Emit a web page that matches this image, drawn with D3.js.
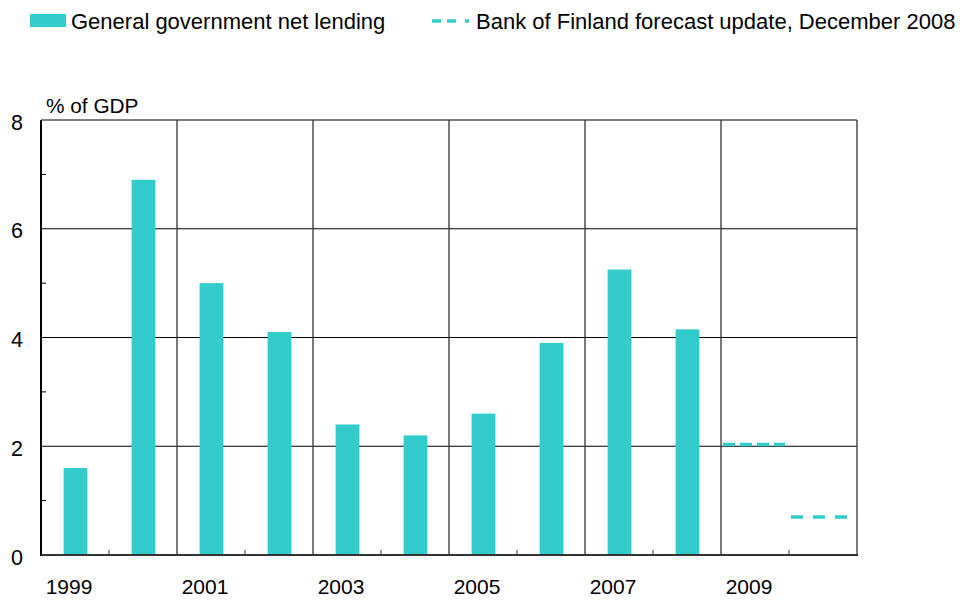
<!DOCTYPE html>
<html>
<head>
<meta charset="utf-8">
<script src="https://cdn.jsdelivr.net/npm/d3@7"></script>
<style>
  html, body { margin: 0; padding: 0; background: #fff; }
  svg { display: block; font-family: "Liberation Sans", Arial, sans-serif; }
</style>
</head>
<body>
<svg id="chart" width="962" height="600"></svg>
<script>
// ---- data ----
const years = [1999, 2000, 2001, 2002, 2003, 2004, 2005, 2006, 2007, 2008, 2009, 2010];
const netLending = [1.6, 6.9, 5.0, 4.1, 2.4, 2.2, 2.6, 3.9, 5.25, 4.15, null, null];
const forecast = [null, null, null, null, null, null, null, null, null, null, 2.03, 0.7];
const yTicks = [0, 2, 4, 6, 8];
const yMinorTicks = [1, 3, 5, 7];
const xTickLabels = ["1999", "2001", "2003", "2005", "2007", "2009"];
const legendLabels = ["General government net lending", "Bank of Finland forecast update, December 2008"];
const yAxisTitle = "% of GDP";

// ---- layout ----
const svg = d3.select("#chart");
const pLeft = 41, pRight = 857, pTop = 120, pBottom = 555;
const teal = "#33CCCC";

const x = d3.scaleBand().domain(years).range([pLeft, pRight]).padding(0);
const y = d3.scaleLinear().domain([0, 8]).range([pBottom, pTop]);
const bw = x.bandwidth();

// horizontal gridlines
svg.append("g").selectAll("line").data(yTicks.filter(d => d > 0)).join("line")
  .attr("x1", pLeft).attr("x2", pRight)
  .attr("y1", d => y(d)).attr("y2", d => y(d))
  .attr("stroke", "#000").attr("stroke-width", 1.2);

// vertical gridlines at every 2 years + right border
const vLines = years.filter((d, i) => i > 0 && i % 2 === 0).map(d => x(d)).concat([pRight]);
svg.append("g").selectAll("line").data(vLines).join("line")
  .attr("x1", d => d).attr("x2", d => d)
  .attr("y1", pTop).attr("y2", pBottom)
  .attr("stroke", "#333").attr("stroke-width", 1.3);

// bars
const barW = bw * 0.35;
svg.append("g").selectAll("rect")
  .data(years.map((yr, i) => ({ yr, v: netLending[i] })).filter(d => d.v !== null))
  .join("rect")
  .attr("x", d => x(d.yr) + bw / 2 - barW / 2 + 0.5)
  .attr("width", barW)
  .attr("y", d => y(d.v))
  .attr("height", d => y(0) - y(d.v))
  .attr("fill", teal);

// forecast dashed lines
const fData = years.map((yr, i) => ({ yr, v: forecast[i] })).filter(d => d.v !== null);
const dashes = ["12,5", "12,10"];
const ends = [bw - 4, bw - 10];
svg.append("g").selectAll("line").data(fData).join("line")
  .attr("x1", d => x(d.yr) + 2)
  .attr("x2", (d, i) => x(d.yr) + ends[i])
  .attr("y1", d => y(d.v)).attr("y2", d => y(d.v))
  .attr("stroke", teal).attr("stroke-width", 3.5)
  .attr("stroke-dasharray", (d, i) => dashes[i]);

// axes lines
svg.append("line").attr("x1", pLeft).attr("x2", pLeft).attr("y1", pTop).attr("y2", pBottom + 1)
  .attr("stroke", "#000").attr("stroke-width", 2);
svg.append("line").attr("x1", pLeft).attr("x2", pRight + 1).attr("y1", pBottom).attr("y2", pBottom)
  .attr("stroke", "#333").attr("stroke-width", 2);

// y minor ticks (inward)
svg.append("g").selectAll("line").data(yMinorTicks).join("line")
  .attr("x1", pLeft).attr("x2", pLeft + 5)
  .attr("y1", d => y(d)).attr("y2", d => y(d))
  .attr("stroke", "#000").attr("stroke-width", 1);

// x minor ticks at odd boundaries (inward)
const xMinor = years.filter((d, i) => i % 2 === 1).map(d => x(d));
svg.append("g").selectAll("line").data(xMinor).join("line")
  .attr("x1", d => d).attr("x2", d => d)
  .attr("y1", pBottom).attr("y2", pBottom - 5)
  .attr("stroke", "#333").attr("stroke-width", 1);

// y labels
svg.append("g").selectAll("text").data(yTicks).join("text")
  .attr("x", 23).attr("y", d => y(d) + 9.5)
  .attr("text-anchor", "end")
  .attr("font-size", 21.5).attr("fill", "#000")
  .text(d => d);

// y title
svg.append("text").attr("x", 46).attr("y", 113)
  .attr("font-size", 20.8).attr("fill", "#000").text(yAxisTitle);

// x labels
svg.append("g").selectAll("text").data(xTickLabels).join("text")
  .attr("x", d => x(+d) + bw / 2 - 6)
  .attr("y", 594)
  .attr("text-anchor", "middle")
  .attr("font-size", 21).attr("fill", "#000")
  .text(d => d);

// legend
const lg = svg.append("g");
lg.append("rect").attr("x", 30).attr("y", 14).attr("width", 36).attr("height", 13).attr("fill", teal);
lg.append("text").attr("x", 71).attr("y", 29).attr("font-size", 22).attr("fill", "#000").text(legendLabels[0]);
lg.append("line").attr("x1", 432).attr("x2", 470).attr("y1", 21).attr("y2", 21)
  .attr("stroke", teal).attr("stroke-width", 3.5).attr("stroke-dasharray", "9,6,9,9,4");
lg.append("text").attr("x", 476).attr("y", 29).attr("font-size", 22).attr("fill", "#000").text(legendLabels[1]);
</script>
</body>
</html>
